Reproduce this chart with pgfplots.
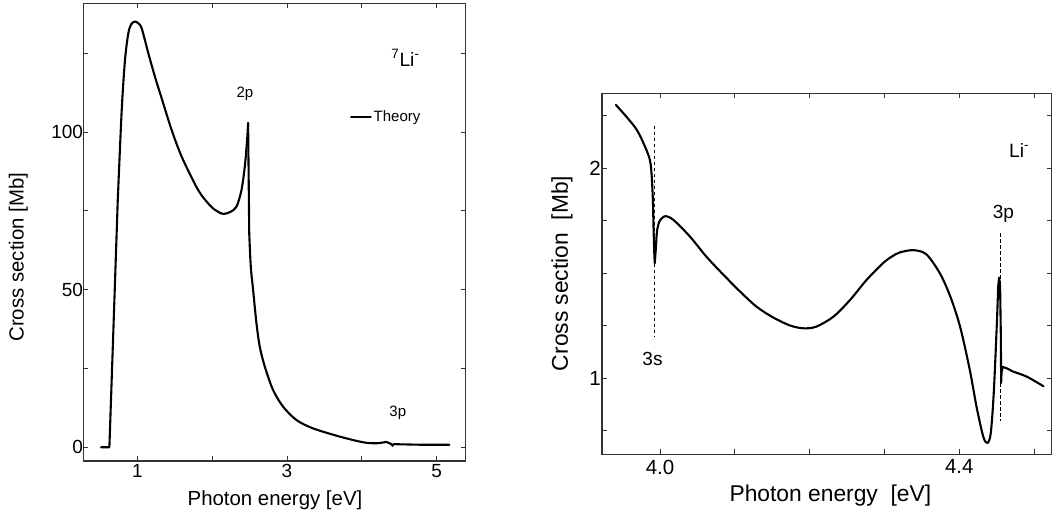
\documentclass[border=0pt]{standalone}
\usepackage{fontspec}
\setmainfont{Liberation Sans}
\usepackage{pgfplots}
\pgfplotsset{compat=1.18}

\pgfplotsset{
  panel/.style={
    scale only axis,
    axis line style={line width=1.1pt, black!80},
    every tick/.style={black!80, line width=0.9pt},
    major tick length=5pt,
    tick align=inside,
  },
  curve/.style={black, line width=2.1pt, line join=round, line cap=round, mark=none},
  scurve/.style={curve, smooth, tension=0.5},
}

\begin{document}
\begin{tikzpicture}
\useasboundingbox (0,0) rectangle (1052pt,515pt);

% left panel: 7Li- total cross section
\begin{axis}[panel,
  at={(83.3pt,54pt)}, anchor=south west,
  width=382.4pt, height=457.7pt,
  xmin=0.2786, xmax=5.387, ymin=-4.35, ymax=140.8,
  xtick={1,2,3,4,5}, xticklabels={1,,3,,5},
  ytick={0,25,50,75,100,125}, yticklabels={0,,50,,100,},
  ticklabel style={font=\fontsize{19}{22}\selectfont},
  yticklabel style={xshift=3.3pt},
  xlabel={Photon energy [eV]},
  ylabel={Cross section [Mb]},
  label style={font=\fontsize{20.4}{24}\selectfont},
  xlabel style={at={(axis description cs:0.5013,-0.085)}, anchor=center},
  ylabel style={at={(axis description cs:-0.1697,0.4454)}, anchor=center},
  legend style={draw=none, fill=none, at={(axis cs:3.80,104.7)}, anchor=west,
    font=\fontsize{15}{18}\selectfont},
  legend image code/.code={\draw[line width=1.6pt] (0pt,0pt) -- (20pt,0pt);},
]
% threshold and steep rise
\addplot[curve] coordinates {
(0.516,0) (0.627,0) (0.683,39) (0.739,78.4)
};
\addlegendentry{Theory}
% broad maximum, minimum and 2p resonance
\addplot[scurve, forget plot] coordinates {
(0.739,78.4) (0.792,107) (0.836,122.9) (0.88,131.3) (0.92,134.2)
(0.969,135.0) (1.01,134.5) (1.058,132.9) (1.147,125) (1.236,117.5)
(1.325,110.7) (1.459,100.6) (1.592,92.2) (1.769,83.5) (1.85,80.2)
(1.93,77.8) (2.0,76.0) (2.07,74.8) (2.147,74.0) (2.24,74.6) (2.325,76.3)
(2.392,81.6) (2.436,89) (2.467,97.5) (2.48,102.8)
};
\addplot[curve, forget plot] coordinates {
(2.48,102.8) (2.488,85) (2.495,68)
};
% tail above the 2p threshold
\addplot[scurve, forget plot] coordinates {
(2.495,68) (2.516,57.3) (2.547,49.9) (2.592,39.3) (2.636,31.9)
(2.703,25.6) (2.813,18.2) (2.947,12.9) (3.125,8.66) (3.347,6.0)
(3.703,3.4) (4.013,1.6) (4.192,1.27) (4.325,1.7)
};
\addplot[curve, forget plot] coordinates {
(4.325,1.7) (4.392,1.05) (4.41,0.5) (4.43,1.0) (4.503,0.95) (4.8,0.8) (5.169,0.8)
};
\node[font=\fontsize{19.3}{22}\selectfont] at (axis cs:4.583,123.5)
  {\textsuperscript{7}Li\textsuperscript{-}};
\node[font=\fontsize{15}{18}\selectfont] at (axis cs:2.437,112) {2p};
\node[font=\fontsize{15}{18}\selectfont] at (axis cs:4.48,11.0) {3p};
\end{axis}

% right panel: Li- near the n=3 thresholds
\begin{axis}[panel,
  at={(602pt,60.7pt)}, anchor=south west,
  width=449.5pt, height=361pt,
  xmin=3.9225, xmax=4.5232, ymin=0.638, ymax=2.357,
  xtick={4.0,4.1,4.2,4.3,4.4,4.5}, xticklabels={4.0,,,,4.4,},
  ytick={0.75,1,1.25,1.5,1.75,2,2.25}, yticklabels={,1,,,,2,},
  ticklabel style={font=\fontsize{20.5}{24}\selectfont},
  xticklabel style={yshift=-2pt},
  yticklabel style={xshift=2.2pt},
  xlabel={Photon energy\ \ [eV]},
  ylabel={Cross section\ \ [Mb]},
  label style={font=\fontsize{22.8}{27}\selectfont},
  xlabel style={at={(axis description cs:0.508,-0.115)}, anchor=center},
  ylabel style={at={(axis description cs:-0.0889,0.501)}, anchor=center},
]
\addplot[scurve] coordinates {
(3.941,2.302) (3.955,2.246) (3.969,2.183) (3.980,2.103) (3.9866,2.038)
(3.989,1.96) (3.9905,1.85)
};
\addplot[curve] coordinates {
(3.9905,1.85) (3.9915,1.70) (3.9925,1.58) (3.993,1.548) (3.9945,1.62)
};
\addplot[scurve] coordinates {
(3.9945,1.62) (3.996,1.70) (3.999,1.745) (4.003,1.764) (4.008,1.772)
(4.018,1.754) (4.040,1.675) (4.062,1.579) (4.085,1.492) (4.107,1.413)
(4.129,1.341) (4.151,1.29) (4.174,1.251) (4.192,1.238) (4.209,1.246)
(4.232,1.294) (4.254,1.373) (4.276,1.468) (4.298,1.548) (4.31,1.58)
(4.321,1.600) (4.339,1.610) (4.356,1.590) (4.374,1.5) (4.388,1.389)
(4.401,1.246) (4.414,1.040) (4.423,0.865) (4.432,0.722) (4.4376,0.692)
(4.442,0.738) (4.446,0.929) (4.45,1.246) (4.452,1.44)
};
\addplot[curve] coordinates {
(4.452,1.44) (4.4532,1.479) (4.4545,1.44) (4.4555,1.2) (4.4559,0.978)
(4.4565,1.03) (4.4581,1.054)
};
\addplot[scurve] coordinates {
(4.4581,1.054) (4.465,1.045) (4.472,1.032) (4.49,1.008) (4.5125,0.962)
};
\addplot[black, line width=0.9pt, dash pattern=on 3.5pt off 2.5pt] coordinates {(3.9929,2.203) (3.9929,1.198)};
\addplot[black, line width=0.9pt, dash pattern=on 3.5pt off 2.5pt] coordinates {(4.4552,1.690) (4.4552,0.797)};
\node[font=\fontsize{19}{22}\selectfont] at (axis cs:3.990,1.094) {3s};
\node[font=\fontsize{19}{22}\selectfont] at (axis cs:4.459,1.781) {3p};
\node[font=\fontsize{19.3}{22}\selectfont] at (axis cs:4.48,2.086) {Li\textsuperscript{-}};
\end{axis}
\end{tikzpicture}
\end{document}
